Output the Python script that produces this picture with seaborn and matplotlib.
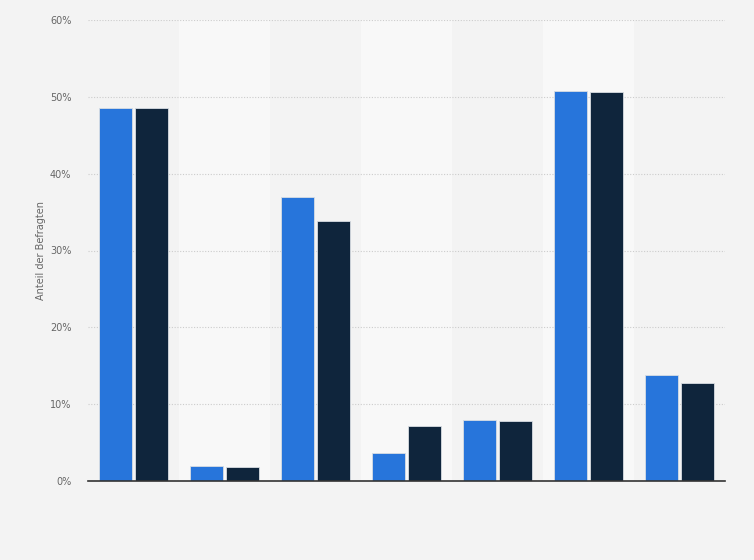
import matplotlib
matplotlib.use("Agg")
import matplotlib.pyplot as plt
import seaborn as sns
import pandas as pd

# Werte (Anteil der Befragten in %)
kategorien = ["K1", "K2", "K3", "K4", "K5", "K6", "K7"]
serie_a = [48.6, 2.0, 37.0, 3.6, 7.9, 50.8, 13.8]
serie_b = [48.5, 1.8, 33.9, 7.2, 7.8, 50.6, 12.8]
serien = ["Serie A", "Serie B"]
farben = ["#2775db", "#0f253c"]

df = pd.DataFrame({
    "kategorie": kategorien * 2,
    "wert": serie_a + serie_b,
    "serie": [serien[0]] * len(kategorien) + [serien[1]] * len(kategorien),
})

sns.set_style("white")
plt.rcParams['font.family'] = ['DejaVu Sans']

fig = plt.figure(figsize=(7.54, 5.6), dpi=100, facecolor="#f3f3f3")
ax = fig.add_axes([88 / 754, 1 - 481 / 560, 637 / 754, 461 / 560])
ax.set_facecolor("#f3f3f3")

# helle Streifen hinter jeder zweiten Kategorie
for i in range(1, len(kategorien), 2):
    ax.axvspan(i - 0.5, i + 0.5, color="#f8f8f8", zorder=0, lw=0)

sns.barplot(data=df, x="kategorie", y="wert", hue="serie", palette=farben,
            saturation=1, width=0.8, gap=0.08, edgecolor="#d8dde3", linewidth=0.6,
            ax=ax, zorder=3, legend=False)

ax.set_xlim(-0.5, len(kategorien) - 0.5)
ax.set_ylim(0, 60)
ax.set_yticks(range(0, 61, 10))
ax.set_yticklabels([f"{v}%" for v in range(0, 61, 10)], color="#666666", fontsize=7)
ax.set_xticks([])
ax.set_xlabel("")
ax.set_ylabel("Anteil der Befragten", color="#666666", fontsize=7, labelpad=3)
ax.tick_params(axis="y", length=0, pad=12)

ax.grid(axis="y", color="#cccccc", linestyle=(0, (1, 1.5)), linewidth=0.8, zorder=1)
ax.set_axisbelow(True)
for s in ["top", "right", "left"]:
    ax.spines[s].set_visible(False)
ax.spines["bottom"].set_color("#333333")
ax.spines["bottom"].set_linewidth(1.2)
ax.spines["bottom"].set_zorder(4)

fig.savefig("out.png", dpi=100, facecolor=fig.get_facecolor())
